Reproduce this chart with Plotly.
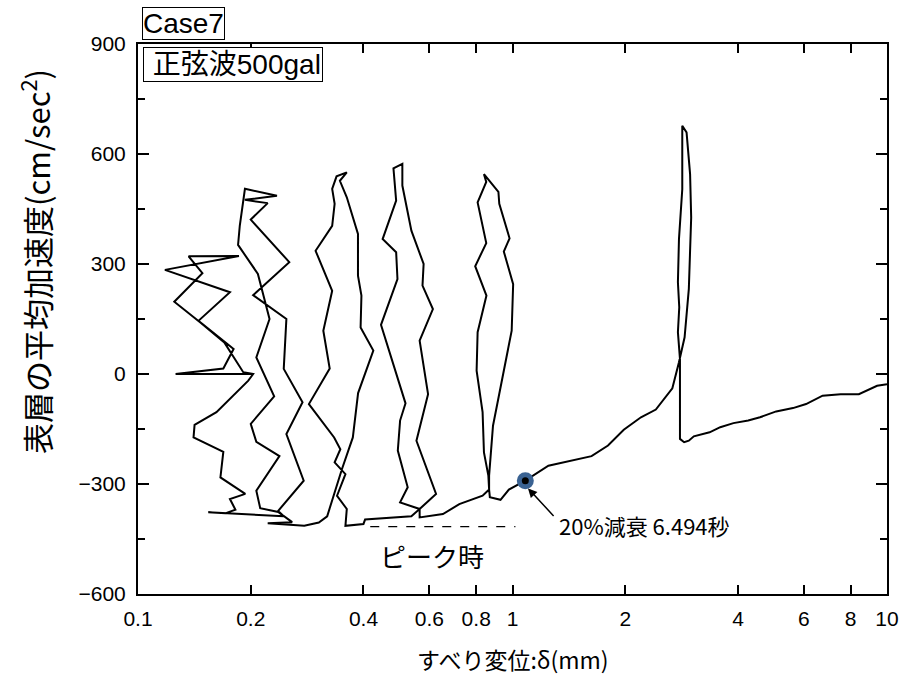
import plotly.graph_objects as go
import math

# ---- data ----
# column A (x ~0.12-0.2)
colA_x = [0.203, 0.126, 0.169, 0.180, 0.145, 0.176, 0.118, 0.186, 0.1365, 0.1486, 0.125, 0.147, 0.170, 0.191, 0.203,
          0.197, 0.162, 0.1416, 0.1407, 0.169, 0.166, 0.1934, 0.176, 0.182, 0.171, 0.154, 0.245]
colA_y = [0, 0, 15, 68, 145, 223, 284, 322, 321, 275, 197, 140, 86, 5, 0,
          -18, -104, -139, -173, -212, -282, -327, -341, -370, -380, -377, -388]
# column B
colB_x = [0.2386, 0.212, 0.207, 0.2386, 0.207, 0.200, 0.231, 0.207, 0.2245, 0.209, 0.185, 0.187, 0.193, 0.235,
          0.193, 0.222, 0.200, 0.2535, 0.203, 0.249, 0.245, 0.275, 0.249, 0.277, 0.236, 0.258, 0.222, 0.278]
colB_y = [-377, -366, -318, -224, -185, -136, -61, 45, 150, 273, 352, 405, 505, 486,
          475, 466, 421, 305, 215, 150, 14, -77, -164, -291, -375, -404, -407, -414]
# column C
colC_x = [0.304, 0.320, 0.3505, 0.3747, 0.387, 0.425, 0.393, 0.395, 0.3867, 0.3867, 0.361, 0.346, 0.361, 0.339,
          0.330, 0.335, 0.330, 0.298, 0.330, 0.3125, 0.325, 0.286, 0.334, 0.347, 0.335, 0.358, 0.340, 0.361,
          0.358, 0.400, 0.404]
colC_y = [-405, -388, -259, -173, -52, 64, 127, 214, 268, 382, 482, 527, 550, 539,
          505, 464, 404, 336, 227, 118, 15, -82, -173, -205, -241, -273, -332, -368,
          -414, -409, -397]
# column D
colD_x = [0.537, 0.565, 0.501, 0.525, 0.494, 0.501, 0.518, 0.4455, 0.493, 0.489, 0.450, 0.489, 0.481, 0.508,
          0.508, 0.537, 0.579, 0.575, 0.613, 0.565, 0.595, 0.554, 0.625, 0.565, 0.565]
colD_y = [-388, -368, -350, -309, -209, -127, -80, 134, 259, 332, 368, 473, 561, 573,
          514, 391, 300, 241, 177, 91, -55, -182, -327, -368, -391]
# bottom slip to column E, and column E
colE_x = [0.652, 0.721, 0.832, 0.866, 0.862, 0.839, 0.832, 0.802, 0.807, 0.852, 0.795, 0.851, 0.807, 0.851,
          0.839, 0.917, 0.922, 0.982, 0.948, 1.004, 0.995, 0.887, 0.866, 0.866, 0.870, 0.929, 0.978, 1.082,
          1.247]
colE_y = [-382, -355, -332, -315, -277, -214, -104, 9, 114, 214, 294, 357, 468, 524,
          545, 497, 464, 370, 334, 245, 118, -141, -277, -315, -336, -343, -315, -291,
          -250]
# large slip and final loop
tail_x = [1.626, 1.799, 1.982, 2.203, 2.414, 2.672, 2.783, 2.881, 2.957, 3.0, 2.98, 2.916, 2.84, 2.84,
          2.783, 2.765, 2.788, 2.765, 2.80, 2.80, 2.873, 2.957, 3.049, 3.36, 3.587, 3.89, 4.26, 4.58,
          5.06, 5.61, 6.08, 6.73, 7.52, 8.41, 9.41, 10.0]
tail_y = [-224, -195, -152, -118, -97, -39, 32, 100, 232, 427, 545, 659, 677, 504,
          368, 250, 182, 114, 41, -177, -186, -182, -170, -159, -145, -134, -127, -118,
          -102, -93, -82, -59, -55, -55, -32, -28]

marker_x = [1.082]
marker_y = [-291]
peak_x = [0.417, 1.018]
peak_y = [-416, -416]

x_ticks = [0.1, 0.2, 0.4, 0.6, 0.8, 1, 2, 4, 6, 8, 10]
x_ticktext = ["0.1", "0.2", "0.4", "0.6", "0.8", "1", "2", "4", "6", "8", "10"]
y_ticks = [-600, -300, 0, 300, 600, 900]

path_x = colA_x + colB_x + colC_x + colD_x + colE_x + tail_x
path_y = colA_y + colB_y + colC_y + colD_y + colE_y + tail_y

FONT = "Liberation Sans, Arial, Noto Sans CJK JP, sans-serif"
JFONT = "Noto Sans CJK JP, sans-serif"

fig = go.Figure()
fig.add_trace(go.Scatter(x=path_x, y=path_y, mode="lines",
                         line=dict(color="black", width=2), hoverinfo="skip"))
fig.add_trace(go.Scatter(x=peak_x, y=peak_y, mode="lines",
                         line=dict(color="black", width=1.2, dash="dash")))
fig.add_trace(go.Scatter(x=marker_x, y=marker_y, mode="markers",
                         marker=dict(size=17, color="#3a6292")))
fig.add_trace(go.Scatter(x=marker_x, y=marker_y, mode="markers",
                         marker=dict(size=7, color="black")))

fig.update_layout(
    width=911, height=680,
    margin=dict(l=138, r=16, t=44, b=86),
    paper_bgcolor="white", plot_bgcolor="white",
    showlegend=False,
    font=dict(family=FONT, color="black", size=20),
    xaxis=dict(type="log", range=[-1, 1], tickmode="array", tickvals=x_ticks, ticktext=x_ticktext,
               ticks="inside", ticklen=9, tickwidth=1.5, tickcolor="black",
               showline=True, linewidth=2, linecolor="black", mirror="ticks",
               showgrid=False, zeroline=False, tickfont=dict(size=21), ticklabelstandoff=5),
    yaxis=dict(range=[-600, 900], tickmode="array", tickvals=y_ticks,
               ticks="inside", ticklen=11, tickwidth=1.5, tickcolor="black",
               minor=dict(dtick=150, ticks="inside", ticklen=7, tickwidth=1.5, tickcolor="black", showgrid=False),
               showline=True, linewidth=2, linecolor="black", mirror="ticks",
               showgrid=False, zeroline=False, tickfont=dict(size=21), ticklabelstandoff=6),
)

annotations = [
    dict(text="Case7", xref="paper", yref="paper", x=0.005, y=1.068, xanchor="left", yanchor="top",
         showarrow=False, font=dict(size=28, family=FONT), bordercolor="black", borderwidth=1, borderpad=0),
    dict(text=" 正弦波500gal", xref="paper", yref="paper", x=0.007, y=0.995, xanchor="left", yanchor="top",
         showarrow=False, font=dict(size=28, family=FONT), bordercolor="black", borderwidth=1, borderpad=1,
         bgcolor="white"),
    dict(text="ピーク時", xref="x", yref="y", x=math.log10(0.61), y=-496, showarrow=False,
         xanchor="center", yanchor="middle", font=dict(size=26, family=JFONT)),
    dict(text="20%減衰 6.494秒", xref="x", yref="y", x=0.119, y=-412, xanchor="left", yanchor="middle",
         showarrow=False, font=dict(size=22, family=JFONT)),
    dict(text="", xref="x", yref="y", x=math.log10(1.1), y=-312, ax=27, ay=29, showarrow=True,
         arrowhead=2, arrowsize=1.2, arrowwidth=1.5, arrowcolor="black", standoff=0),
    dict(text="すべり変位:δ(mm)", xref="paper", yref="paper", x=0.5, y=(594 - 659) / 550,
         xanchor="center", yanchor="middle", showarrow=False, font=dict(size=23, family=JFONT)),
    dict(text="表層の平均加速度(cm/sec<sup>2</sup>)", xref="paper", yref="paper", x=(34 - 138) / 757,
         y=(594 - 262) / 550, xanchor="center", yanchor="middle", textangle=-90, showarrow=False,
         font=dict(size=31, family=JFONT)),
]
fig.update_layout(annotations=annotations)

fig.write_html("out.html", config={"displayModeBar": False},
               post_script="document.body.style.margin='0px';")
